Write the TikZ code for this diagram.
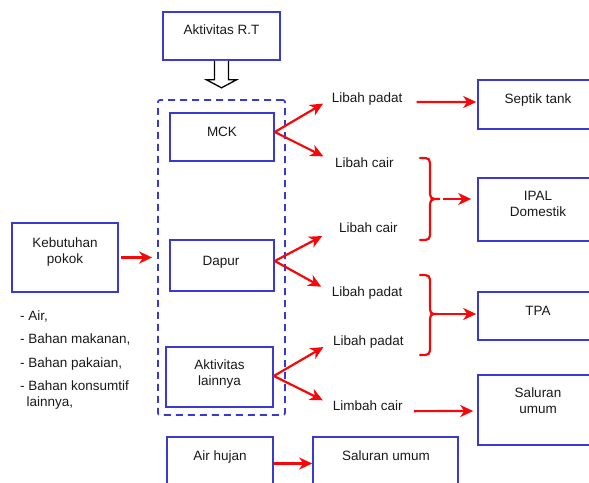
\documentclass[tikz,border=0pt]{standalone}
\usepackage{fontspec}
\setmainfont{Liberation Sans}
\usetikzlibrary{arrows.meta}
\definecolor{boxblue}{RGB}{58,58,208}
\definecolor{flowred}{RGB}{246,8,8}
\definecolor{inktext}{RGB}{25,25,25}
\begin{document}
\begin{tikzpicture}[x=1pt,y=-1pt,
  font=\fontsize{13.5}{16}\selectfont,
  box/.style={draw=boxblue, line width=1.6pt, rectangle, inner sep=0pt},
  group/.style={draw=boxblue, line width=1.7pt, rectangle, rounded corners=2pt,
                dash pattern=on 7pt off 5pt, inner sep=0pt},
  txt/.style={inner sep=0pt, align=center, text=inktext, anchor=base},
  lbl/.style={inner sep=0pt, text=inktext, anchor=base west},
  ra/.style={draw=flowred, line width=2.2pt,
             -{Stealth[length=13pt,width=12pt,inset=4pt]}},
  brace/.style={draw=flowred, line width=2.2pt, line cap=round},
  hollow/.style={draw=black, line width=1.3pt, fill=white, line join=miter}
]
\useasboundingbox (0,0) rectangle (589,482);
\clip (0,0) rectangle (589,482);

% ---- boxes ----
\node[box, minimum width=117pt, minimum height=48pt] (rt)    at (221.5,36) {};
\node[group, minimum width=127pt, minimum height=315pt] (grp) at (221.5,257.5) {};
\node[box, minimum width=104pt, minimum height=48pt] (mck)   at (222,137) {};
\node[box, minimum width=104pt, minimum height=51pt] (dapur) at (222,265.5) {};
\node[box, minimum width=107pt, minimum height=60pt] (lain)  at (219.5,377) {};
\node[box, minimum width=106pt, minimum height=60pt] (air)   at (220,467) {};
\node[box, minimum width=145pt, minimum height=60pt] (salb)  at (385.5,467) {};
\node[box, minimum width=106pt, minimum height=69pt] (keb)   at (65,257.5) {};
\node[box, minimum width=120pt, minimum height=49pt] (septik) at (538,104.5) {};
\node[box, minimum width=120pt, minimum height=63pt] (ipal)  at (538,209.5) {};
\node[box, minimum width=120pt, minimum height=48pt] (tpa)   at (538,316) {};
\node[box, minimum width=120pt, minimum height=70pt] (salr)  at (538,410) {};

% ---- box texts (base anchor = baseline of the last line) ----
\node[txt] (rtt)     at (221.5,34) {Aktivitas R.T};
\node[txt] (mckt)    at (222,136) {MCK};
\node[txt] (dapurt)  at (221,265) {Dapur};
\node[txt] (laint)   at (219.5,385) {Aktivitas\\lainnya};
\node[txt] (airt)    at (220,460) {Air hujan};
\node[txt] (salbt)   at (386,460) {Saluran umum};
\node[txt] (kebt)    at (65,263) {Kebutuhan\\pokok};
\node[txt] (septikt) at (538,103) {Septik tank};
\node[txt] (ipalt)   at (538,216) {IPAL\\Domestik};
\node[txt] (tpat)    at (538,315) {TPA};
\node[txt] (salrt)   at (538,413) {Saluran\\umum};

% ---- list of basic needs ----
\node[lbl] (n1) at (20,320) {- Air,};
\node[lbl] (n2) at (20,343) {- Bahan makanan,};
\node[lbl] (n3) at (20,367) {- Bahan pakaian,};
\node[lbl] (n4) at (20,390) {- Bahan konsumtif};
\node[lbl] (n5) at (26.5,406) {lainnya,};

% ---- waste labels ----
\node[lbl] (lp1) at (331.7,102) {Libah padat};
\node[lbl] (lc1) at (335,167)   {Libah cair};
\node[lbl] (lc2) at (339,232)   {Libah cair};
\node[lbl] (lp2) at (331.7,296) {Libah padat};
\node[lbl] (lp3) at (333,345)   {Libah padat};
\node[lbl] (lmc) at (332.7,410) {Limbah cair};

% ---- hollow arrow from R.T activities into the group ----
\draw[hollow] (rt.south) ++(-7,0) -- ++(0,19) -- ++(-8,0) -- ++(15,8)
              -- ++(15,-8) -- ++(-8,0) -- ++(0,-19);

% ---- arrows out of the activities ----
\draw[ra, shorten >=10pt] ([yshift=5pt]mck.east)   -- (lp1.west);
\draw[ra, shorten >=13pt] ([yshift=5pt]mck.east)   -- (lc1.west);
\draw[ra, shorten >=19pt] ([yshift=4.5pt]dapur.east) -- (lc2.west);
\draw[ra, shorten >=12pt] ([yshift=4.5pt]dapur.east) -- (lp2.west);
\draw[ra, shorten >=11pt] ([yshift=1pt]lain.east)  -- (lp3.west);
\draw[ra, shorten >=11pt] ([yshift=1pt]lain.east)  -- (lmc.west);

% ---- arrows to the disposal points ----
\draw[ra, shorten <=14pt, shorten >=1pt] ([yshift=-3.5pt]lp1.east) -- ([yshift=2.5pt]septik.west);
\draw[ra, shorten <=11pt, shorten >=4pt] ([yshift=-6pt]lmc.east) -- ([yshift=-1pt]salr.west);
\draw[ra, shorten <=2pt, shorten >=5pt] (keb.east) -- (keb.east -| grp.west);
\draw[ra] ([yshift=3.5pt]air.east) -- ([yshift=3.5pt]salb.west);

% ---- braces grouping the waste streams ----
\coordinate (b1) at (440,199);
\coordinate (b2) at (438,314);
\draw[brace] (420,158) .. controls (430,158) .. (430,168) -- (430,189)
             .. controls (430,199) .. (b1)
             .. controls (430,199) .. (430,209) -- (430,230)
             .. controls (430,240) .. (420,240);
\draw[brace] (420,275) .. controls (430,275) .. (430,285) -- (430,304)
             .. controls (430,314) .. (b2)
             .. controls (430,314) .. (430,324) -- (430,345)
             .. controls (430,355) .. (420,355);
\draw[ra, shorten <=3pt, shorten >=6pt] (b1) -- (b1 -| ipal.west);
\draw[ra, shorten >=1pt] (b2) -- (b2 -| tpa.west);
\end{tikzpicture}
\end{document}
